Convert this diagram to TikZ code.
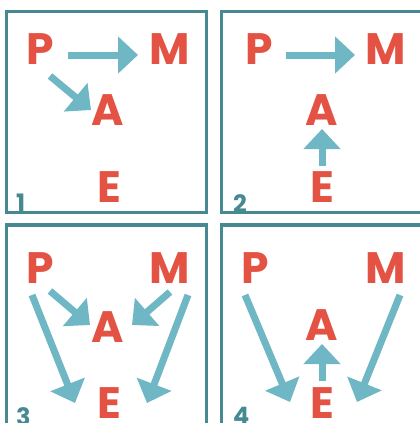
\documentclass[tikz,border=0pt]{standalone}
\usepackage{fontspec}
\setmainfont{Poppins}
\usetikzlibrary{arrows.meta}
\definecolor{lred}{HTML}{E45244}
\definecolor{arr}{HTML}{6FB7C4}
\definecolor{frm}{HTML}{468991}
\tikzset{
  letter/.style={text=lred, font=\fontsize{44}{44}\selectfont\bfseries, inner sep=0pt, anchor=center},
  num/.style={text=frm, font=\fontsize{24}{24}\selectfont\bfseries, inner sep=0pt, anchor=north west},
  frame/.style={draw=frm, line width=3.5pt},
  conn/.style={draw=arr, line width=7pt, -{Triangle[length=20pt,width=36pt]}}
}
\begin{document}
\begin{tikzpicture}[x=1pt,y=-1pt]
\useasboundingbox (0,0) rectangle (420,423);
\clip (0,0) rectangle (420,423);
\fill[white] (0,0) rectangle (420,423);
% frames
\draw[frame] (6.5,11.5) rectangle (206.5,212.5);
\draw[frame] (221.5,11.5) rectangle (430,212.5);
\draw[frame] (6.5,225) rectangle (206.5,440);
\draw[frame] (221.5,225) rectangle (430,440);
% numbers
\node[num] (n1) at (16,194) {1};
\node[num] (n2) at (233,194) {2};
\node[num] (n3) at (16,407) {3};
\node[num] (n4) at (233,407) {4};
% panel 1
\node[letter] (P1) at (40,49) {P};
\node[letter] (M1) at (170,49) {M};
\node[letter] (A1) at (108,110) {A};
\node[letter] (E1) at (109,187) {E};
\coordinate (p1a) at (68,55); \coordinate (m1a) at (138,55);
\coordinate (p1b) at (50,76); \coordinate (a1b) at (91,110);
\draw[conn] (p1a) -- (m1a);
\draw[conn] (p1b) -- (a1b);
% panel 2
\node[letter] (P2) at (259,49) {P};
\node[letter] (M2) at (386,49) {M};
\node[letter] (A2) at (322,110) {A};
\node[letter] (E2) at (322,187) {E};
\coordinate (p2a) at (286,55); \coordinate (m2a) at (355,55);
\coordinate (e2a) at (322,166); \coordinate (a2a) at (322,129);
\draw[conn] (p2a) -- (m2a);
\draw[conn] (e2a) -- (a2a);
% panel 3
\node[letter] (P3) at (40,268) {P};
\node[letter] (M3) at (170,268) {M};
\node[letter] (A3) at (108,327) {A};
\node[letter] (E3) at (109,403) {E};
\coordinate (p3a) at (50,291); \coordinate (a3a) at (90,325);
\coordinate (m3a) at (170,292); \coordinate (a3b) at (132,325);
\coordinate (p3b) at (32,295); \coordinate (e3a) at (75,403);
\coordinate (m3b) at (188,295); \coordinate (e3b) at (147,403);
\draw[conn] (p3a) -- (a3a);
\draw[conn] (m3a) -- (a3b);
\draw[conn] (p3b) -- (e3a);
\draw[conn] (m3b) -- (e3b);
% panel 4
\node[letter] (P4) at (255,268) {P};
\node[letter] (M4) at (386,268) {M};
\node[letter] (A4) at (322,325) {A};
\node[letter] (E4) at (322,403) {E};
\coordinate (e4a) at (322,381); \coordinate (a4a) at (322,344);
\coordinate (p4a) at (245,295); \coordinate (e4b) at (290,402);
\coordinate (m4a) at (400,295); \coordinate (e4c) at (357,402);
\draw[conn] (e4a) -- (a4a);
\draw[conn] (p4a) -- (e4b);
\draw[conn] (m4a) -- (e4c);
\end{tikzpicture}
\end{document}
